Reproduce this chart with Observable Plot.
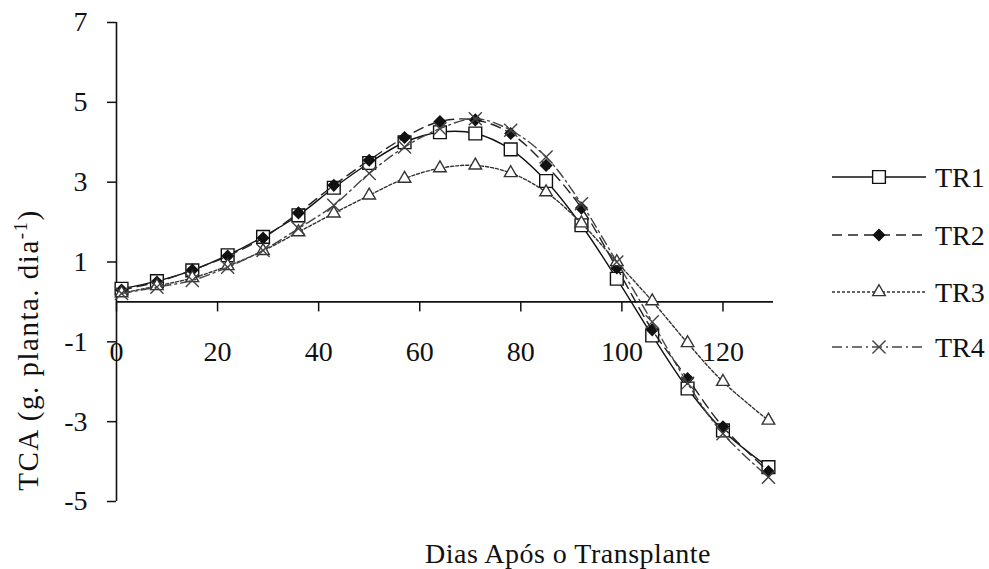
<!DOCTYPE html>
<html><head><meta charset="utf-8">
<script src="https://cdn.jsdelivr.net/npm/d3@7"></script>
<script src="https://cdn.jsdelivr.net/npm/@observablehq/plot@0.6"></script>
<style>
body{margin:0;background:#fff;}
#wrap{position:relative;width:989px;height:569px;overflow:hidden;}
#overlay{position:absolute;left:0;top:0;pointer-events:none;}
</style></head><body><div id="wrap"></div>
<script>
// ---- data ----
const days = [1, 8, 15, 22, 29, 36, 43, 50, 57, 64, 71, 78, 85, 92, 99, 106, 113, 120, 129];
const tr1 = [0.33, 0.52, 0.79, 1.17, 1.63, 2.17, 2.86, 3.48, 4.0, 4.25, 4.22, 3.82, 3.03, 1.92, 0.58, -0.84, -2.17, -3.22, -4.14];
const tr2 = [0.30, 0.50, 0.80, 1.15, 1.60, 2.23, 2.92, 3.55, 4.12, 4.52, 4.56, 4.22, 3.42, 2.35, 0.85, -0.70, -1.92, -3.13, -4.25];
const tr3 = [0.22, 0.40, 0.60, 0.90, 1.28, 1.75, 2.22, 2.67, 3.09, 3.35, 3.42, 3.23, 2.75, 1.97, 1.00, 0.02, -1.03, -2.00, -2.97];
const tr4 = [0.21, 0.37, 0.54, 0.87, 1.29, 1.84, 2.42, 3.22, 3.88, 4.34, 4.59, 4.30, 3.63, 2.46, 1.00, -0.50, -2.04, -3.30, -4.39];
const seriesNames = ["TR1", "TR2", "TR3", "TR4"];
const xTicks = [0, 20, 40, 60, 80, 100, 120];
const yTicks = [-5, -3, -1, 1, 3, 5, 7];
const xTitle = "Dias Após o Transplante";
const yTitleMain = "TCA (g. planta. dia";
const yTitleSup = "-1";
const yTitleEnd = ")";

const values = [tr1, tr2, tr3, tr4];
const rows = [];
seriesNames.forEach((s, i) => days.forEach((d, j) => rows.push({series: s, day: d, value: values[i][j]})));

const styles = {
  TR1: {dash: null, symbol: "square", r: 7.2, fill: "white", stroke: "#111", line: "#111"},
  TR2: {dash: "10,6", symbol: "diamond2", r: 5, fill: "#111", stroke: "#111", line: "#222"},
  TR3: {dash: "3,2", symbol: "triangle2", r: 6, fill: "white", stroke: "#333", line: "#333"},
  TR4: {dash: "10,4,2,4", symbol: "times", r: 6, fill: "none", stroke: "#444", line: "#444"}
};

const seriesMarks = [];
for (const s of seriesNames) {
  const st = styles[s];
  const data = rows.filter(r => r.series === s);
  seriesMarks.push(Plot.line(data, {x: "day", y: "value", curve: "catmull-rom", stroke: st.line, strokeWidth: 1.4, strokeDasharray: st.dash}));
  seriesMarks.push(Plot.dot(data, {x: "day", y: "value", symbol: st.symbol, r: st.r, fill: st.fill, stroke: st.stroke, strokeWidth: 1.4}));
}

const font = "Liberation Serif, DejaVu Serif, serif";
const chart = Plot.plot({
  width: 989, height: 569,
  marginLeft: 116, marginRight: 216, marginTop: 22, marginBottom: 68,
  x: {domain: [0, 130], axis: null},
  y: {domain: [-5, 7]},
  style: {fontFamily: font, fontSize: "28px", color: "#111", background: "white"},
  marks: [
    Plot.axisY(yTicks, {anchor: "left", tickSize: 9, tickPadding: 20, fontSize: 28, label: null, tickFormat: d => String(d), strokeWidth: 1.5}),
    Plot.ruleX([0], {strokeWidth: 1.6}),
    Plot.ruleY([0], {strokeWidth: 1.6}),
    Plot.ruleX(xTicks, {x: d => d, y1: 0, y2: -0.25, strokeWidth: 1.5}),
    Plot.text(xTicks, {x: d => d, y: 0, dy: 50, text: d => String(d), fontSize: 28}),
    ...seriesMarks
  ]
});
const wrap = document.getElementById("wrap");
wrap.appendChild(chart);

// ---- overlay: axis titles and legend ----
const svg = d3.select(wrap).append("svg").attr("id", "overlay").attr("width", 989).attr("height", 569)
  .style("font-family", font).style("fill", "#111");

const yt = svg.append("text").attr("transform", "translate(38,350) rotate(-90)")
  .attr("text-anchor", "middle").attr("font-size", 29).attr("letter-spacing", 1.5);
yt.append("tspan").text(yTitleMain);
yt.append("tspan").attr("font-size", 19).attr("dy", -11).text(yTitleSup);
yt.append("tspan").attr("dy", 11).text(yTitleEnd);

svg.append("text").attr("x", 568).attr("y", 563).attr("text-anchor", "middle")
  .attr("font-size", 28).attr("letter-spacing", 0.5).text(xTitle);

const legY = [177, 235, 292, 347];
const symMap = {square: d3.symbolSquare, diamond2: d3.symbolDiamond2, triangle2: d3.symbolTriangle2, times: d3.symbolTimes};
seriesNames.forEach((s, i) => {
  const st = styles[s];
  const g = svg.append("g").attr("transform", `translate(0,${legY[i]})`);
  g.append("line").attr("x1", 832).attr("x2", 926).attr("y1", 0).attr("y2", 0)
    .attr("stroke", st.line).attr("stroke-width", 1.4).attr("stroke-dasharray", st.dash);
  g.append("path").attr("transform", "translate(879,0)")
    .attr("d", d3.symbol(symMap[st.symbol], Math.PI * st.r * st.r)())
    .attr("fill", st.fill).attr("stroke", st.stroke).attr("stroke-width", 1.4);
  g.append("text").attr("x", 935).attr("y", 10).attr("font-size", 28).text(s);
});
</script></body></html>
